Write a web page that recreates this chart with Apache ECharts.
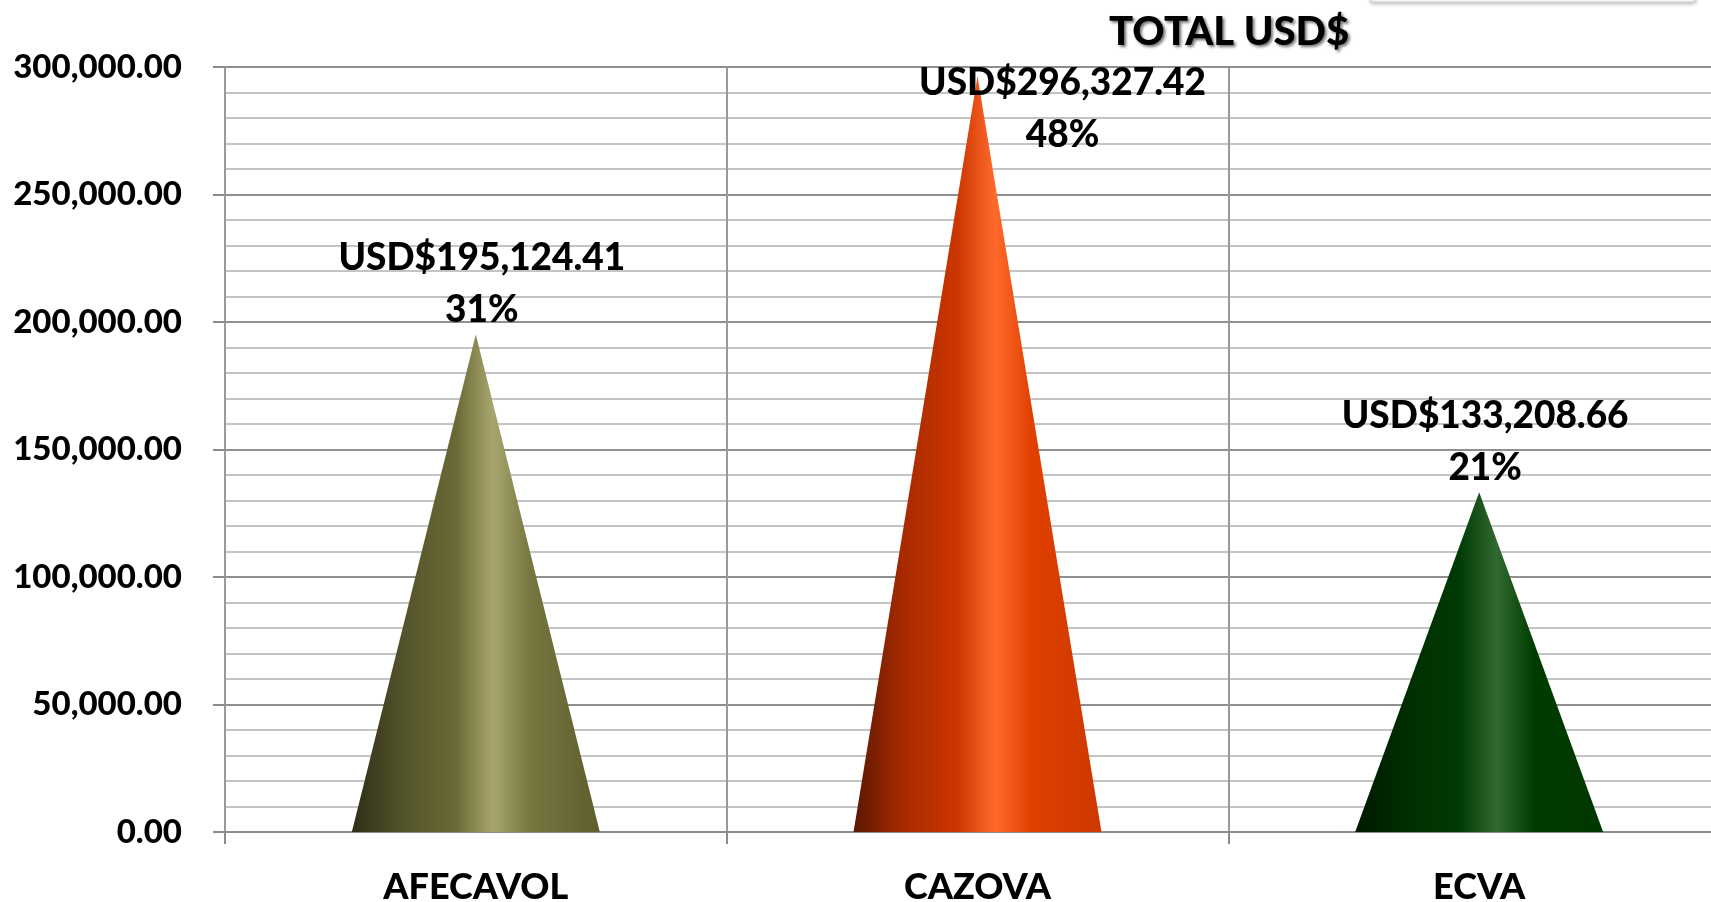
<!DOCTYPE html>
<html>
<head>
<meta charset="utf-8">
<script src="https://cdn.jsdelivr.net/npm/echarts@6/dist/echarts.min.js"></script>
<style>
  html, body { margin: 0; padding: 0; background: #fff; }
  #chart { width: 1711px; height: 902px; }
</style>
</head>
<body>
<div id="chart"></div>
<script>
// datos del grafico
var categories = ['AFECAVOL', 'CAZOVA', 'ECVA'];
var totals = [195124.41, 296327.42, 133208.66];
var shares = ['31%', '48%', '21%'];
var yTicks = [0, 50000, 100000, 150000, 200000, 250000, 300000];

// sombreado de cada cono (izquierda -> derecha)
var coneStops = [
    ['#2e2e18', '#52522a', '#6a6a36', '#a8a66e', '#767640', '#5e5e2e'],
    ['#5a1800', '#a82a00', '#cc3600', '#ff6a2c', '#e04000', '#cc3800'],
    ['#001800', '#002e00', '#003a04', '#306a30', '#003c00', '#003800']
];
var stopPos = [0, 0.2, 0.42, 0.57, 0.72, 1];

function money(v) {
    return v.toLocaleString('en-US', { minimumFractionDigits: 2, maximumFractionDigits: 2 });
}

var chart = echarts.init(document.getElementById('chart'));

var seriesData = totals.map(function (v, i) {
    var item = {
        value: v,
        itemStyle: {
            color: new echarts.graphic.LinearGradient(0, 0, 1, 0, coneStops[i].map(function (c, k) {
                return { offset: stopPos[k], color: c };
            }))
        }
    };
    // la etiqueta de CAZOVA fue movida a mano en el original
    if (i === 1) {
        item.label = { offset: [85, 83] };
    }
    return item;
});

chart.setOption({
    backgroundColor: '#fff',
    animation: false,
    title: {
        text: 'TOTAL USD$',
        left: 1104,
        top: 7,
        textStyle: {
            fontFamily: 'Lato',
            fontWeight: 900,
            fontSize: 40,
            color: '#000',
            textShadowColor: 'rgba(0,0,0,0.55)',
            textShadowBlur: 3,
            textShadowOffsetX: 2,
            textShadowOffsetY: 2
        }
    },
    graphic: [{
        type: 'rect',
        shape: { x: 1371, y: -40, width: 324, height: 42 },
        style: { fill: '#fff', stroke: '#d0d0d0', lineWidth: 1, shadowBlur: 4, shadowColor: 'rgba(0,0,0,0.3)', shadowOffsetY: 1 }
    }],
    grid: {
        left: 225,
        right: -19,
        top: 67,
        bottom: 70,
        outerBoundsMode: 'none'
    },
    xAxis: {
        type: 'category',
        data: categories,
        boundaryGap: true,
        axisLine: { show: true, lineStyle: { color: '#8c8c8c', width: 2 } },
        axisTick: { show: true, length: 12, lineStyle: { color: '#8c8c8c', width: 2 } },
        axisLabel: {
            margin: 37,
            color: '#000',
            fontFamily: 'Lato',
            fontWeight: 900,
            fontSize: 36
        },
        splitLine: { show: true, lineStyle: { color: '#9a9a9a', width: 2 } }
    },
    yAxis: {
        type: 'value',
        min: yTicks[0],
        max: yTicks[yTicks.length - 1],
        interval: yTicks[1] - yTicks[0],
        axisLine: { show: true, lineStyle: { color: '#9a9a9a', width: 2 } },
        axisTick: { show: true, length: 12, lineStyle: { color: '#8c8c8c', width: 2 } },
        axisLabel: {
            margin: 43,
            color: '#000',
            fontFamily: 'Lato',
            fontWeight: 900,
            fontSize: 33,
            formatter: function (v) { return money(v); }
        },
        splitLine: { show: true, lineStyle: { color: '#8f8f8f', width: 2 } },
        minorTick: { show: false, splitNumber: 5 },
        minorSplitLine: { show: true, lineStyle: { color: '#c4c4c4', width: 2 } }
    },
    series: [{
        name: 'TOTAL USD$',
        type: 'pictorialBar',
        symbol: 'path://M0,100 L50,0 L100,100 Z',
        symbolSize: [248, '100%'],
        symbolPosition: 'start',
        z: 10,
        label: {
            show: true,
            position: 'top',
            distance: -2,
            offset: [6, 0],
            color: '#000',
            fontFamily: 'Lato',
            fontWeight: 900,
            fontSize: 37,
            lineHeight: 52,
            formatter: function (p) {
                return 'USD$' + money(p.value) + '\n' + shares[p.dataIndex];
            }
        },
        data: seriesData
    }]
});
</script>
</body>
</html>
